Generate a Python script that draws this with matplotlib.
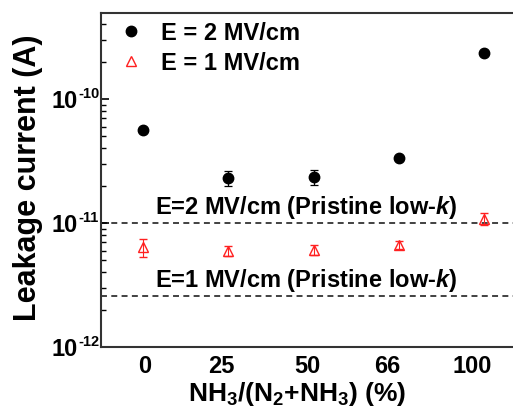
import matplotlib
matplotlib.use("Agg")
import matplotlib.pyplot as plt
import matplotlib.transforms as mtransforms
from matplotlib.lines import Line2D
from matplotlib.ticker import NullFormatter, FixedLocator
import numpy as np

plt.rcParams["font.family"] = ["Liberation Sans", "DejaVu Sans"]
plt.rcParams["font.weight"] = "bold"
plt.rcParams["mathtext.fontset"] = "custom"
plt.rcParams["mathtext.rm"] = "Liberation Sans:bold"
plt.rcParams["mathtext.bf"] = "Liberation Sans:bold"
plt.rcParams["mathtext.it"] = "Liberation Sans:bold:italic"
plt.rcParams["mathtext.default"] = "rm"

# NH3 fraction in the N2/NH3 treatment gas
categories = ["0", "25", "50", "66", "100"]

# Leakage current (A) at E = 2 MV/cm
leak_2mv = [5.6e-11, 2.31e-11, 2.36e-11, 3.32e-11, 2.36e-10]
err_2mv = [1.0e-12, 3.2e-12, 3.3e-12, 1.0e-12, 5.0e-12]

# Leakage current (A) at E = 1 MV/cm
leak_1mv = [6.37e-12, 5.98e-12, 6.05e-12, 6.65e-12, 1.08e-11]
err_1mv = [1.0e-12, 5.5e-13, 5.5e-13, 5.0e-13, 1.2e-12]

# Pristine low-k reference levels
pristine_2mv = 1.0e-11
pristine_1mv = 2.6e-12

# decade ticks on the current axis
y_exponents = [-12, -11, -10]

RED = "#ff2020"

fig = plt.figure(figsize=(5.13, 4.10), dpi=100)
ax = fig.add_axes([0.197, 0.1512, 0.830, 0.8146])

x = np.arange(len(categories))

ax.errorbar(x, leak_2mv, yerr=err_2mv, fmt="o", color="black", ms=7.5,
            elinewidth=0.9, capsize=3, capthick=0.9, zorder=3)
ax.errorbar(x, leak_1mv, yerr=err_1mv, fmt="^", color=RED, mfc="none",
            mec=RED, ms=7.8, mew=1.0, elinewidth=0.8, capsize=3,
            capthick=0.8, zorder=3)

dash = (0, (3.3, 2.4))
ax.axhline(pristine_2mv, color="#333333", lw=1.3, ls=dash, zorder=1)
ax.axhline(pristine_1mv, color="#333333", lw=1.3, ls=dash, zorder=1)

ax.annotate("E=2 MV/cm (Pristine low-$\\mathit{k}$)", xy=(0.14, pristine_2mv),
            xytext=(0, 2), textcoords="offset points", fontsize=17,
            fontweight="bold", va="bottom", ha="left")
ax.annotate("E=1 MV/cm (Pristine low-$\\mathit{k}$)", xy=(0.14, pristine_1mv),
            xytext=(0, 2), textcoords="offset points", fontsize=17,
            fontweight="bold", va="bottom", ha="left")

ax.set_yscale("log")
ax.set_ylim(1e-12, 4.94e-10)
ax.set_xlim(-0.493, 4.5)

y_ticks = [10.0 ** e for e in y_exponents]
ax.yaxis.set_major_locator(FixedLocator(y_ticks))
ax.yaxis.set_major_formatter(NullFormatter())
ax.yaxis.set_minor_formatter(NullFormatter())

# decade labels: "10" with a small raised exponent
ytrans = mtransforms.blended_transform_factory(ax.transAxes, ax.transData)
for e, val in zip(y_exponents, y_ticks):
    ax.annotate("10", xy=(0, val), xycoords=ytrans, xytext=(-16.5, -1),
                textcoords="offset points", ha="right", va="center",
                fontsize=17, fontweight="bold", annotation_clip=False)
    ax.annotate("-%d" % abs(e), xy=(0, val), xycoords=ytrans,
                xytext=(-16.5, 4.5), textcoords="offset points", ha="left",
                va="center", fontsize=10.5, fontweight="bold",
                annotation_clip=False)

ax.set_xticks(x)
ax.set_xticklabels(categories, fontsize=17, fontweight="bold")
ax.tick_params(axis="x", length=0, pad=5)
ax.tick_params(axis="y", which="major", direction="in", length=6, width=1.2)
ax.tick_params(axis="y", which="minor", direction="in", length=3.5, width=1.0)

# small horizontal nudges of the category labels (pixels)
label_shift = [2, -7, -6, -12, -12]
for lab, dx in zip(ax.get_xticklabels(), label_shift):
    lab.set_transform(lab.get_transform() +
                      mtransforms.ScaledTranslation(dx / 100, 0, fig.dpi_scale_trans))

ax.set_ylabel("Leakage current (A)", fontsize=22, fontweight="bold")
ax.yaxis.set_label_coords(-0.1725, 0.5105, transform=ax.transAxes)
ax.yaxis.label.set_va("center")
ax.set_xlabel("NH$_3$/(N$_2$+NH$_3$) (%)", fontsize=19, fontweight="bold")
ax.xaxis.set_label_coords(0.46, -0.095, transform=ax.transAxes)
ax.xaxis.label.set_va("top")

for side in ["left", "top", "bottom", "right"]:
    ax.spines[side].set_linewidth(1.5)
    ax.spines[side].set_color("#333333")

handles = [
    Line2D([], [], ls="none", marker="o", color="black", ms=7.5),
    Line2D([], [], ls="none", marker="^", mfc="none", mec=RED, ms=7.8, mew=1.0),
]
ax.legend(handles, ["E = 2 MV/cm", "E = 1 MV/cm"], loc="upper left",
          bbox_to_anchor=(0.042, 0.976), frameon=False, fontsize=17,
          handlelength=1.0, handletextpad=0.8, borderaxespad=0, borderpad=0,
          labelspacing=0.3)

fig.savefig("out.png", dpi=100, facecolor="white")
